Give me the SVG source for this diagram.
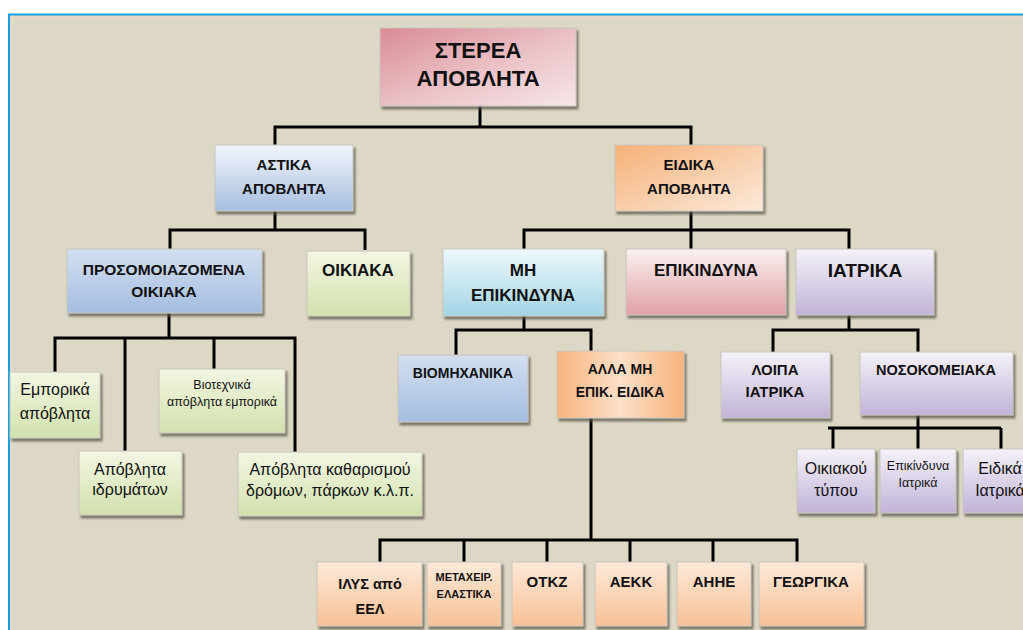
<svg xmlns="http://www.w3.org/2000/svg" width="1023" height="630" viewBox="0 0 1023 630">
<style>
.b{font-family:"Liberation Sans",Arial,sans-serif;font-weight:bold;fill:#111;text-anchor:middle}
.r{font-family:"Liberation Sans",Arial,sans-serif;font-weight:normal;fill:#111;text-anchor:middle}
.box{stroke:#c9c6bd;stroke-width:1;filter:url(#sh)}
.ln{fill:none;stroke:#000;stroke-width:3;stroke-linejoin:miter}
</style>
<defs>
<filter id="sh" x="-10%" y="-10%" width="125%" height="130%">
<feDropShadow dx="2" dy="3" stdDeviation="0.8" flood-color="#5a5648" flood-opacity="0.75"/>
</filter>
<linearGradient id="gRoot" x1="0" y1="0" x2="1" y2="1"><stop offset="0" stop-color="#d98b95"/><stop offset="0.55" stop-color="#ebc3c8"/><stop offset="1" stop-color="#f6e6e8"/></linearGradient>
<linearGradient id="gOrD" x1="0" y1="0" x2="1" y2="1"><stop offset="0" stop-color="#f6b078"/><stop offset="0.6" stop-color="#f9d3b3"/><stop offset="1" stop-color="#fce9da"/></linearGradient>
<linearGradient id="gBlue" x1="0" y1="0" x2="0" y2="1"><stop offset="0" stop-color="#f2f5fb"/><stop offset="1" stop-color="#a6bee0"/></linearGradient>
<linearGradient id="gBlue2" x1="0" y1="0" x2="0" y2="1"><stop offset="0" stop-color="#d2dff0"/><stop offset="1" stop-color="#a5bde0"/></linearGradient>
<linearGradient id="gCyan" x1="0" y1="0" x2="0" y2="1"><stop offset="0" stop-color="#eef8fb"/><stop offset="1" stop-color="#a4d4e6"/></linearGradient>
<linearGradient id="gRed" x1="0" y1="0" x2="0" y2="1"><stop offset="0" stop-color="#faf0f0"/><stop offset="1" stop-color="#e0a0a6"/></linearGradient>
<linearGradient id="gPur" x1="0" y1="0" x2="0" y2="1"><stop offset="0" stop-color="#f5f2f9"/><stop offset="1" stop-color="#c1b3d8"/></linearGradient>
<linearGradient id="gGrn" x1="0" y1="0" x2="0" y2="1"><stop offset="0" stop-color="#f3f6e2"/><stop offset="1" stop-color="#d2e1ae"/></linearGradient>
<linearGradient id="gOr" x1="0" y1="0" x2="0" y2="1"><stop offset="0" stop-color="#fde9d8"/><stop offset="1" stop-color="#f8c196"/></linearGradient>
<linearGradient id="gOr2" x1="0" y1="0" x2="1" y2="0"><stop offset="0" stop-color="#f7b27c"/><stop offset="0.5" stop-color="#fbe0c8"/><stop offset="1" stop-color="#f7b27c"/></linearGradient>
</defs>
<rect x="0" y="0" width="1023" height="630" fill="#ffffff"/>
<rect x="9" y="14" width="1014" height="616" fill="#ddd8c5"/>
<line x1="8" y1="14.5" x2="1023" y2="14.5" stroke="#16a1e0" stroke-width="2"/>
<line x1="9" y1="14" x2="9" y2="630" stroke="#16a1e0" stroke-width="2"/>
<line x1="10" y1="17.5" x2="1023" y2="17.5" stroke="#ead8c4" stroke-width="2"/>
<line x1="12" y1="17" x2="12" y2="630" stroke="#e3dccb" stroke-width="2"/>

<g id="connectors">
<path class="ln" d="M480,106 V127 M275,145 V127 H691 V145"/>
<path class="ln" d="M275,211 V230 M170,249 V230 H365 V250"/>
<path class="ln" d="M169,313 V338 M55,372 V338 H295 V452 M125,338 V451 M214,338 V369"/>
<path class="ln" d="M691,211 V230 M524,249 V230 H849 V249 M691,230 V249"/>
<path class="ln" d="M524,316 V330 M456,355 V330 H591 V351"/>
<path class="ln" d="M849,315 V330 M773,352 V330 H918 V352"/>
<path class="ln" d="M918,415 V449 M828,428 H1001 M833,428 V449 M1001,428 V449"/>
<path class="ln" d="M591,418 V540 M380,562 V540 H797 V562 M464,540 V562 M547,540 V562 M630,540 V562 M713,540 V562"/>
</g>

<g id="n-root"><rect class="box" x="380" y="28" width="196" height="78" fill="url(#gRoot)"/>
<text class="b" x="478" y="58" font-size="22">ΣΤΕΡΕΑ</text><text class="b" x="478" y="86" font-size="22">ΑΠΟΒΛΗΤΑ</text></g>

<g id="n-astika"><rect class="box" x="215" y="145" width="138" height="66" fill="url(#gBlue)"/>
<text class="b" x="284" y="170" font-size="15">ΑΣΤΙΚΑ</text><text class="b" x="284" y="194" font-size="15">ΑΠΟΒΛΗΤΑ</text></g>

<g id="n-eidika"><rect class="box" x="615" y="145" width="148" height="66" fill="url(#gOrD)"/>
<text class="b" x="689" y="170" font-size="15">ΕΙΔΙΚΑ</text><text class="b" x="689" y="194" font-size="15">ΑΠΟΒΛΗΤΑ</text></g>

<g id="n-prosom"><rect class="box" x="67" y="249" width="195" height="64" fill="url(#gBlue2)"/>
<text class="b" x="164" y="275" font-size="15.5">ΠΡΟΣΟΜΟΙΑΖΟΜΕΝΑ</text><text class="b" x="164" y="297" font-size="15.5">ΟΙΚΙΑΚΑ</text></g>

<g id="n-oikiaka"><rect class="box" x="307" y="251" width="103" height="65" fill="url(#gGrn)"/>
<text class="b" x="358" y="276" font-size="17">ΟΙΚΙΑΚΑ</text></g>

<g id="n-mhepik"><rect class="box" x="443" y="249" width="161" height="67" fill="url(#gCyan)"/>
<text class="b" x="523" y="276" font-size="17">ΜΗ</text><text class="b" x="523" y="301" font-size="17">ΕΠΙΚΙΝΔΥΝΑ</text></g>

<g id="n-epik"><rect class="box" x="626" y="249" width="160" height="66" fill="url(#gRed)"/>
<text class="b" x="706" y="276" font-size="17">ΕΠΙΚΙΝΔΥΝΑ</text></g>

<g id="n-iatrika"><rect class="box" x="796" y="249" width="138" height="66" fill="url(#gPur)"/>
<text class="b" x="865" y="277" font-size="19">ΙΑΤΡΙΚΑ</text></g>

<g id="n-emporika"><rect class="box" x="10" y="372" width="90" height="66" fill="url(#gGrn)"/>
<text class="r" x="55" y="395" font-size="16">Εμπορικά</text><text class="r" x="55" y="419" font-size="16">απόβλητα</text></g>

<g id="n-viotex"><rect class="box" x="159" y="369" width="126" height="64" fill="url(#gGrn)"/>
<text class="r" x="222" y="389" font-size="12.5">Βιοτεχνικά</text><text class="r" x="222" y="406" font-size="12.5">απόβλητα εμπορικά</text></g>

<g id="n-idrym"><rect class="box" x="79" y="451" width="103" height="64" fill="url(#gGrn)"/>
<text class="r" x="130" y="475" font-size="16">Απόβλητα</text><text class="r" x="130" y="495" font-size="16">ιδρυμάτων</text></g>

<g id="n-kathar"><rect class="box" x="238" y="452" width="184" height="64" fill="url(#gGrn)"/>
<text class="r" x="330" y="475" font-size="16">Απόβλητα καθαρισμού</text><text class="r" x="330" y="496" font-size="16">δρόμων, πάρκων κ.λ.π.</text></g>

<g id="n-viomix"><rect class="box" x="398" y="355" width="130" height="67" fill="url(#gBlue2)"/>
<text class="b" x="463" y="378" font-size="14">ΒΙΟΜΗΧΑΝΙΚΑ</text></g>

<g id="n-alla"><rect class="box" x="557" y="351" width="127" height="67" fill="url(#gOr2)"/>
<text class="b" x="620" y="374" font-size="14">ΑΛΛΑ ΜΗ</text><text class="b" x="620" y="397" font-size="14">ΕΠΙΚ. ΕΙΔΙΚΑ</text></g>

<g id="n-loipa"><rect class="box" x="721" y="352" width="109" height="66" fill="url(#gPur)"/>
<text class="b" x="775" y="375" font-size="15">ΛΟΙΠΑ</text><text class="b" x="775" y="397" font-size="15">ΙΑΤΡΙΚΑ</text></g>

<g id="n-nosok"><rect class="box" x="860" y="352" width="153" height="63" fill="url(#gPur)"/>
<text class="b" x="936" y="375" font-size="14.5">ΝΟΣΟΚΟΜΕΙΑΚΑ</text></g>

<g id="n-oikiakou"><rect class="box" x="797" y="449" width="78" height="64" fill="url(#gPur)"/>
<text class="r" x="836" y="474" font-size="16">Οικιακού</text><text class="r" x="836" y="496" font-size="16">τύπου</text></g>

<g id="n-epikiat"><rect class="box" x="880" y="449" width="76" height="64" fill="url(#gPur)"/>
<text class="r" x="918" y="470" font-size="12.5">Επικίνδυνα</text><text class="r" x="918" y="487" font-size="12.5">Ιατρικά</text></g>

<g id="n-eidiat"><rect class="box" x="963" y="449" width="76" height="64" fill="url(#gPur)"/>
<text class="r" x="1000" y="474" font-size="16">Ειδικά</text><text class="r" x="1000" y="496" font-size="16">Ιατρικά</text></g>

<g id="n-ilys"><rect class="box" x="317" y="562" width="105" height="64" fill="url(#gOr)"/>
<text class="b" x="370" y="589" font-size="14.5">ΙΛΥΣ από</text><text class="b" x="370" y="614" font-size="14.5">ΕΕΛ</text></g>

<g id="n-metax"><rect class="box" x="427" y="562" width="74" height="64" fill="url(#gOr)"/>
<text class="b" x="464" y="581" font-size="11">ΜΕΤΑΧΕΙΡ.</text><text class="b" x="464" y="598" font-size="11">ΕΛΑΣΤΙΚΑ</text></g>

<g id="n-otkz"><rect class="box" x="512" y="562" width="71" height="64" fill="url(#gOr)"/>
<text class="b" x="547" y="587" font-size="15">ΟΤΚΖ</text></g>

<g id="n-aekk"><rect class="box" x="595" y="562" width="72" height="64" fill="url(#gOr)"/>
<text class="b" x="631" y="587" font-size="15">ΑΕΚΚ</text></g>

<g id="n-ahhe"><rect class="box" x="677" y="562" width="74" height="64" fill="url(#gOr)"/>
<text class="b" x="714" y="587" font-size="15">ΑΗΗΕ</text></g>

<g id="n-georg"><rect class="box" x="759" y="562" width="105" height="64" fill="url(#gOr)"/>
<text class="b" x="811" y="587" font-size="15">ΓΕΩΡΓΙΚΑ</text></g>
</svg>
